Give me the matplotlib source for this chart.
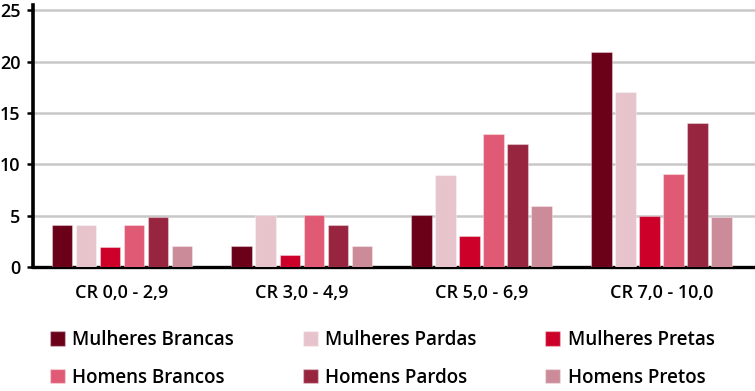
import matplotlib
matplotlib.use("Agg")
import matplotlib.pyplot as plt
from matplotlib.patches import Patch
import numpy as np

plt.rcParams['font.family'] = ['Open Sans', 'DejaVu Sans']
plt.rcParams['font.weight'] = 'semibold'

categories = ["CR 0,0 - 2,9", "CR 3,0 - 4,9", "CR 5,0 - 6,9", "CR 7,0 - 10,0"]
series_names = ["Mulheres Brancas", "Mulheres Pardas", "Mulheres Pretas",
                "Homens Brancos", "Homens Pardos", "Homens Pretos"]
mulheres_brancas = [4.1, 2.1, 5.1, 20.9]
mulheres_pardas = [4.1, 5.1, 9.0, 17.0]
mulheres_pretas = [2.0, 1.2, 3.0, 5.0]
homens_brancos = [4.1, 5.1, 13.0, 9.1]
homens_pardos = [4.9, 4.1, 12.0, 14.0]
homens_pretos = [2.1, 2.1, 6.0, 4.9]
series = [mulheres_brancas, mulheres_pardas, mulheres_pretas,
          homens_brancos, homens_pardos, homens_pretos]
colors = ["#6b0019", "#e7c4cc", "#cc0029", "#e05a75", "#98253f", "#cc8b99"]
yticks = [0, 5, 10, 15, 20, 25]

fig = plt.figure(figsize=(7.55, 3.91), dpi=100)
ax = fig.add_axes([33/755, 1-267.3/391, 1-33/755, (267.3-5)/391])

x = np.arange(len(categories))
pitch = 0.1336
width = 0.1146
for i, (vals, c, name) in enumerate(zip(series, colors, series_names)):
    ax.bar(x + (i - 2.5) * pitch, vals, width=width, color=c, label=name,
           edgecolor=(1, 1, 1, 0.35), linewidth=0.8, zorder=3)

ax.set_xlim(-0.495, 3.52)
ax.set_ylim(0, 25.5)
ax.set_yticks(yticks)
ax.set_yticklabels([str(t) for t in yticks], fontsize=13)
ax.set_xticks(x)
ax.set_xticklabels(categories, fontsize=13)
ax.tick_params(axis='x', length=0, pad=12)
ax.tick_params(axis='y', length=4, width=1.8, pad=5, color='black')
ax.yaxis.grid(True, color='#c8c8c8', linewidth=1.8, zorder=0)
ax.set_axisbelow(True)
for s in ['top', 'right']:
    ax.spines[s].set_visible(False)
ax.spines['left'].set_linewidth(2.6)
ax.spines['bottom'].set_linewidth(2.4)
ax.spines['left'].set_color('black')
ax.spines['bottom'].set_color('black')

handles = [Patch(facecolor=c, edgecolor=(1, 1, 1, 0.35), label=n) for c, n in zip(colors, series_names)]
order = [0, 3, 1, 4, 2, 5]
leg = fig.legend([handles[k] for k in order], [series_names[k] for k in order],
                 ncol=3, loc='upper left', bbox_to_anchor=(50/755, 1-330/391),
                 frameon=False, fontsize=13.5, handlelength=0.8, handleheight=0.8,
                 handletextpad=0.4, columnspacing=3.65, labelspacing=0.95,
                 borderaxespad=0, borderpad=0)

fig.savefig("out.png", dpi=100)
